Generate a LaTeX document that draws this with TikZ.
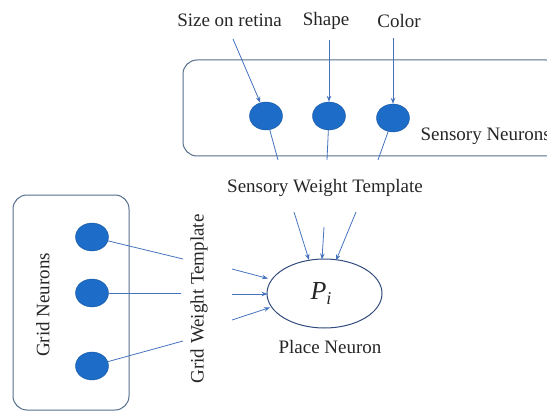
\documentclass[tikz,border=0pt]{standalone}
\usepackage{fontspec}
\setmainfont{Liberation Serif}
\usetikzlibrary{arrows.meta,shapes.geometric}
\definecolor{boxedge}{RGB}{84,110,140}
\definecolor{cellfill}{RGB}{28,108,200}
\definecolor{wire}{RGB}{70,115,190}
\definecolor{placeedge}{RGB}{50,75,125}
\begin{document}
\begin{tikzpicture}[x=1pt,y=-1pt,
  every node/.style={font=\fontsize{19}{22}\selectfont, text=black!85},
  group/.style={draw=boxedge, line width=1pt, rounded corners=14pt},
  cell/.style={ellipse, fill=cellfill, draw=cellfill!80!black, line width=0.4pt,
    minimum width=33pt, minimum height=28pt, inner sep=0pt},
  link/.style={draw=wire, line width=0.8pt},
  feed/.style={link, -{Stealth[length=6pt,width=4.5pt]}}]
\useasboundingbox (0,0) rectangle (547,412);

% sensory group
\draw[group] (183,60) rectangle (560,156);
\node[cell] (s1) at (266,116) {};
\node[cell] (s2) at (329,116) {};
\node[cell] (s3) at (393,118) {};
\node[anchor=west] (sn) at (417,136) {Sensory Neurons};

% stimulus labels
\node (size) at (229.5,20) {Size on retina};
\node (shape) at (326,21) {Shape};
\node (color) at (399,21) {Color};
\draw[feed] (233,39) -- (s1);
\draw[feed] (329,40) -- (s2);
\draw[feed] (393,38) -- (s3);

% sensory weights
\coordinate (w1) at (278,160);
\coordinate (w2) at (327,160);
\coordinate (w3) at (378,160);
\draw[link] (s1) -- (w1);
\draw[link] (s2) -- (w2);
\draw[link] (s3) -- (w3);
\node (swt) at (325,188) {Sensory Weight Template};

% grid group
\draw[group] (13,195) rectangle (129,410);
\node[cell] (g1) at (92,237) {};
\node[cell] (g2) at (92,293) {};
\node[cell] (g3) at (92,366) {};
\node[rotate=90] (gn) at (43,305) {Grid Neurons};
\coordinate (h1) at (183,259);
\coordinate (h2) at (181,293);
\coordinate (h3) at (183,341);
\draw[link] (g1) -- (h1);
\draw[link] (g2) -- (h2);
\draw[link] (g3) -- (h3);
\node[rotate=90] (gwt) at (199,299) {Grid Weight Template};

% place neuron
\node[ellipse, draw=placeedge, line width=1pt, minimum width=115pt, minimum height=69pt,
  inner sep=0pt] (p) at (324.5,293.5) {};
\node (pi) at (321,293) {\fontsize{26}{28}\selectfont\itshape P\raisebox{-5pt}{\fontsize{18}{18}\selectfont i}};
\node (pn) at (330,347) {Place Neuron};

\coordinate (a1) at (232,269);
\coordinate (a2) at (232,294);
\coordinate (a3) at (232,320);
\draw[feed] (a1) -- (268,278.5);
\draw[feed] (a2) -- (267.5,294);
\draw[feed] (a3) -- (270,307.5);
\coordinate (b1) at (294,212);
\coordinate (b2) at (324,227);
\coordinate (b3) at (356,212);
\draw[feed] (b1) -- (309,260);
\draw[feed] (b2) -- (322,259.5);
\draw[feed] (b3) -- (336,260.5);
\end{tikzpicture}
\end{document}
